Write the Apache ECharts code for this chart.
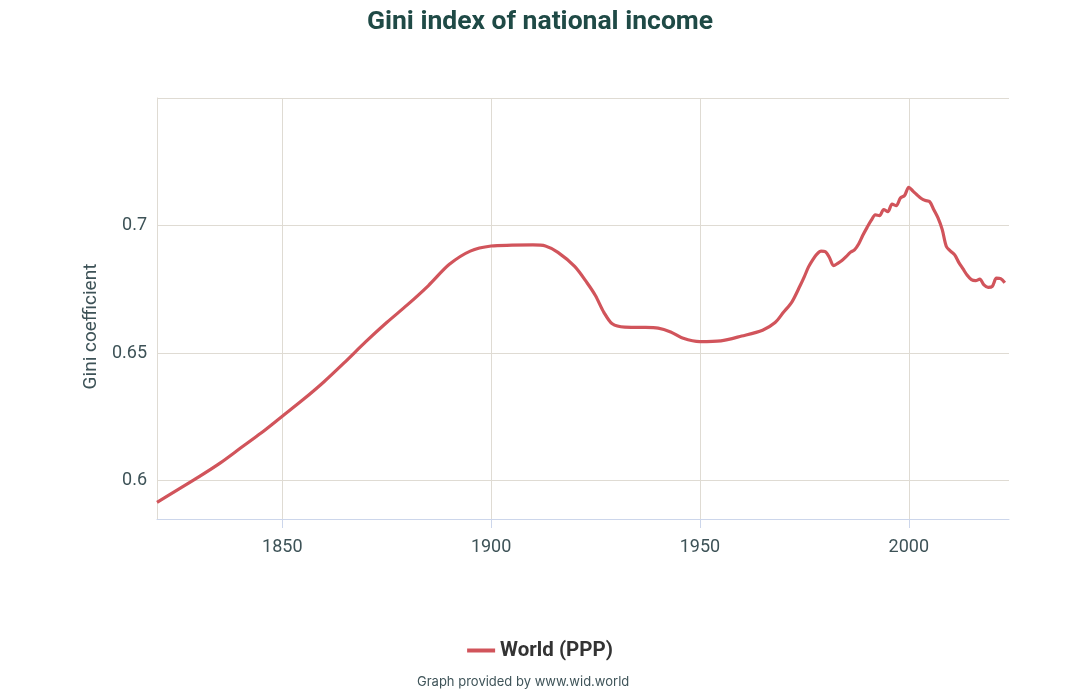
<!DOCTYPE html>
<html>
<head>
<meta charset="utf-8">
<title>Gini index of national income</title>
<script src="https://cdn.jsdelivr.net/npm/echarts@6/dist/echarts.min.js"></script>
<style>
    html, body { margin: 0; padding: 0; background: #fff; }
    #chart { width: 1080px; height: 692px; }
</style>
</head>
<body>
<div id="chart"></div>
<script>
// Data
const years = [
    1820, 1825, 1830, 1835, 1840, 1845, 1850, 1855, 1860, 1865,
    1870, 1875, 1880, 1885, 1890, 1895, 1900, 1905, 1910, 1913,
    1916, 1920, 1923, 1925, 1927, 1929, 1932, 1936, 1940, 1943,
    1946, 1950, 1955, 1960, 1965, 1968, 1970, 1972, 1974, 1975,
    1976, 1977, 1978, 1979, 1980, 1981, 1982, 1983, 1984, 1985,
    1986, 1987, 1988, 1989, 1990, 1991, 1992, 1993, 1994, 1995,
    1996, 1997, 1998, 1999, 2000, 2001, 2002, 2003, 2004, 2005,
    2006, 2007, 2008, 2009, 2010, 2011, 2012, 2013, 2014, 2015,
    2016, 2017, 2018, 2019, 2020, 2021, 2022, 2023
];
const worldPPP = [
    0.5915, 0.5965, 0.6015, 0.6068, 0.6128, 0.6188, 0.6253, 0.6318, 0.6388, 0.6465,
    0.6545, 0.6620, 0.6690, 0.6765, 0.6848, 0.6900, 0.6920, 0.6923, 0.6924, 0.6920,
    0.6895, 0.6840, 0.6775, 0.6725, 0.6660, 0.6615, 0.6602, 0.6601, 0.6598, 0.6583,
    0.6558, 0.6545, 0.6548, 0.6567, 0.6590, 0.6620, 0.6660, 0.6700, 0.6765, 0.6800,
    0.6838, 0.6866, 0.6888, 0.6900, 0.6898, 0.6875, 0.6843, 0.6852, 0.6863, 0.6878,
    0.6895, 0.6905, 0.6928, 0.6962, 0.6992, 0.7020, 0.7042, 0.7039, 0.7063, 0.7055,
    0.7084, 0.7078, 0.7108, 0.7118, 0.7150, 0.7135, 0.7120, 0.7106, 0.7098, 0.7094,
    0.7062, 0.7030, 0.6985, 0.6918, 0.6900, 0.6885, 0.6855, 0.6830, 0.6805, 0.6788,
    0.6784, 0.6790, 0.6768, 0.6758, 0.6762, 0.6794, 0.6792, 0.6776
];
const xTicks = [1850, 1900, 1950, 2000];
const yTicks = [0.6, 0.65, 0.7];
const yGrid = [0.6, 0.65, 0.7, 0.75];

const gridColor = '#dfdbd3';
const labelColor = '#3d5257';
const lineColor = '#d1545b';

const chart = echarts.init(document.getElementById('chart'));

const option = {
    backgroundColor: '#ffffff',
    animation: false,
    title: [
        {
            text: 'Gini index of national income',
            left: 'center',
            top: 4,
            textStyle: {
                color: '#1f4a46',
                fontFamily: 'Roboto, sans-serif',
                fontWeight: 'bold',
                fontSize: 26.5
            }
        },
        {
            text: 'Graph provided by www.wid.world',
            left: 412,
            top: 671,
            textStyle: {
                color: '#3f5459',
                fontFamily: 'Inter, Roboto, sans-serif',
                fontWeight: 'normal',
                fontSize: 13
            }
        }
    ],
    legend: {
        bottom: 26,
        left: 'center',
        icon: 'rect',
        itemWidth: 28,
        itemHeight: 4,
        itemGap: 10,
        textStyle: {
            color: '#333333',
            fontFamily: 'Roboto, sans-serif',
            fontWeight: 'bold',
            fontSize: 20.5
        },
        data: ['World (PPP)']
    },
    grid: {
        left: 157,
        right: 71,
        top: 98,
        bottom: 173
    },
    xAxis: {
        type: 'value',
        min: 1820,
        max: 2024,
        axisLine: { show: true, lineStyle: { color: '#ccd6eb', width: 1 } },
        axisTick: {
            show: true,
            length: 9,
            customValues: xTicks,
            lineStyle: { color: '#ccd6eb' }
        },
        axisLabel: {
            customValues: xTicks,
            formatter: v => String(v),
            margin: 19,
            color: labelColor,
            fontFamily: 'Roboto, sans-serif',
            fontSize: 18
        },
        splitLine: { show: true, lineStyle: { color: gridColor, width: 1 } }
    },
    yAxis: {
        type: 'value',
        min: 0.585,
        max: 0.75,
        name: 'Gini coefficient',
        nameLocation: 'middle',
        nameGap: 40,
        nameTextStyle: {
            color: labelColor,
            fontFamily: 'Roboto, sans-serif',
            fontSize: 19,
            padding: [0, 0, 0, -36]
        },
        axisLine: { show: true, lineStyle: { color: gridColor, width: 1 } },
        axisTick: { show: false, customValues: yGrid },
        axisLabel: {
            customValues: yTicks,
            margin: 10,
            color: labelColor,
            fontFamily: 'Roboto, sans-serif',
            fontSize: 18
        },
        splitLine: { show: true, lineStyle: { color: gridColor, width: 1 } }
    },
    series: [
        {
            name: 'World (PPP)',
            type: 'line',
            data: years.map((y, i) => [y, worldPPP[i]]),
            smooth: 0.3,
            showSymbol: false,
            symbol: 'none',
            lineStyle: { color: lineColor, width: 3.2 },
            itemStyle: { color: lineColor }
        }
    ]
};

chart.setOption(option);

window.addEventListener('resize', () => {
    chart.resize();
});
</script>
</body>
</html>
